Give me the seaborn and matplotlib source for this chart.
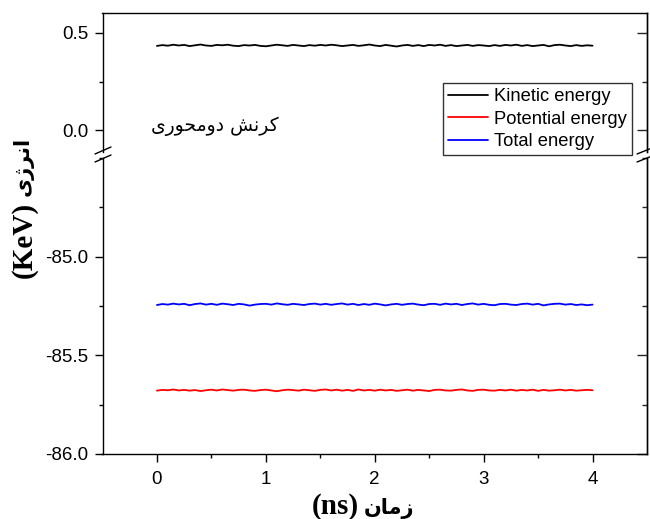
import numpy as np
import pandas as pd
import matplotlib
matplotlib.use("Agg")
import matplotlib.pyplot as plt
import seaborn as sns
from matplotlib.lines import Line2D
from matplotlib.ticker import MultipleLocator, FixedLocator

# ---------------- data ----------------
kinetic = [0.432, 0.436, 0.433, 0.438, 0.434, 0.437, 0.431, 0.435, 0.439, 0.434, 0.432, 0.437, 0.435, 0.438,
           0.433, 0.431, 0.436, 0.434, 0.437, 0.432, 0.430, 0.434, 0.438, 0.435, 0.432, 0.437, 0.434, 0.431,
           0.436, 0.433, 0.437, 0.434, 0.438, 0.435, 0.431, 0.434, 0.437, 0.432, 0.435, 0.439, 0.434, 0.431,
           0.437, 0.433, 0.429, 0.434, 0.437, 0.432, 0.436, 0.431, 0.437, 0.434, 0.438, 0.432, 0.436, 0.431,
           0.434, 0.437, 0.432, 0.436, 0.434, 0.431, 0.436, 0.432, 0.437, 0.434, 0.438, 0.432, 0.436, 0.431,
           0.434, 0.437, 0.430, 0.436, 0.438, 0.434, 0.431, 0.436, 0.432, 0.435, 0.433]
total = [-85.245, -85.240, -85.243, -85.238, -85.242, -85.239, -85.246, -85.240, -85.237, -85.243, -85.239,
         -85.244, -85.238, -85.241, -85.245, -85.239, -85.242, -85.248, -85.243, -85.240, -85.239, -85.243,
         -85.237, -85.241, -85.244, -85.239, -85.242, -85.245, -85.240, -85.238, -85.243, -85.239, -85.244,
         -85.240, -85.237, -85.243, -85.239, -85.245, -85.240, -85.244, -85.238, -85.242, -85.247, -85.242,
         -85.239, -85.244, -85.240, -85.238, -85.243, -85.246, -85.240, -85.239, -85.244, -85.238, -85.242,
         -85.239, -85.245, -85.240, -85.237, -85.243, -85.239, -85.244, -85.246, -85.240, -85.239, -85.243,
         -85.245, -85.240, -85.238, -85.243, -85.239, -85.247, -85.242, -85.239, -85.238, -85.243, -85.240,
         -85.245, -85.242, -85.246, -85.243]
potential = [-85.679, -85.675, -85.677, -85.673, -85.678, -85.675, -85.679, -85.676, -85.681, -85.677, -85.674,
             -85.678, -85.673, -85.676, -85.679, -85.675, -85.674, -85.678, -85.680, -85.676, -85.674, -85.678,
             -85.682, -85.677, -85.674, -85.676, -85.679, -85.674, -85.677, -85.680, -85.675, -85.673, -85.678,
             -85.674, -85.679, -85.675, -85.680, -85.673, -85.678, -85.675, -85.679, -85.674, -85.678, -85.675,
             -85.680, -85.677, -85.674, -85.679, -85.675, -85.678, -85.681, -85.675, -85.674, -85.678, -85.679,
             -85.675, -85.673, -85.678, -85.680, -85.675, -85.674, -85.678, -85.679, -85.675, -85.678, -85.674,
             -85.679, -85.675, -85.678, -85.674, -85.680, -85.675, -85.679, -85.677, -85.674, -85.678, -85.675,
             -85.679, -85.677, -85.675, -85.677]
t_start, t_end = 0.0, 4.0
series_names = ["Kinetic energy", "Potential energy", "Total energy"]
series_colors = ["black", "red", "blue"]
x_ticks = [0, 1, 2, 3, 4]
x_minor_ticks = [0.5, 1.5, 2.5, 3.5]
top_yticks = [0.0, 0.5]
bottom_yticks = [-86.0, -85.5, -85.0]

# Persian text (presentation forms, visual order for LTR rendering)
annot_text = "\uFBFC\uFEAD\uFEEE\uFEA4\uFEE3\uFEED\uFEA9 \uFEB6\uFEE7\uFEAE\uFB90"   # کرنش دومحوری
xlabel_fa = "\uFEE5\uFE8E\uFEE3\uFEAF"                                              # زمان
xlabel_unit = "(ns)"
ylabel_fa = "\uFBFC\uFB8A\uFEAE\uFEE7\uFE8D"                                        # انرژی
ylabel_unit = "(KeV)"

def frame(vals, name):
    return pd.DataFrame({"t": np.linspace(t_start, t_end, len(vals)), "E": vals, "name": name})

df_top = frame(kinetic, series_names[0])
df_bot = pd.concat([frame(potential, series_names[1]), frame(total, series_names[2])])

# ---------------- style ----------------
sns.set_style("ticks")
plt.rcParams["font.family"] = ["Liberation Sans", "DejaVu Sans"]
plt.rcParams["axes.linewidth"] = 1.0
plt.rcParams["text.color"] = "black"

W, H = 650, 519
fig = plt.figure(figsize=(W / 100, H / 100), dpi=100)

def fx(px):
    return px / W

def fy(py):
    return 1 - py / H

L, R = 102.5, 647
ax_top = fig.add_axes([fx(L), fy(152), fx(R) - fx(L), fy(13) - fy(152)])
ax_bot = fig.add_axes([fx(L), fy(454), fx(R) - fx(L), fy(158) - fy(454)])

sns.lineplot(data=df_top, x="t", y="E", ax=ax_top, color=series_colors[0], lw=1.3, legend=False)
sns.lineplot(data=df_bot, x="t", y="E", hue="name", palette=series_colors[1:], ax=ax_bot, lw=1.3, legend=False)

for ax in (ax_top, ax_bot):
    ax.set_xlim(-0.5, 4.5)
    ax.set_xlabel("")
    ax.set_ylabel("")
    for s in ax.spines.values():
        s.set_color("black")
        s.set_linewidth(1.0)

ax_top.set_ylim(-0.11, 0.6)
ax_bot.set_ylim(-86.0, -84.5)

ax_top.spines["bottom"].set_visible(False)
ax_bot.spines["top"].set_visible(False)
ax_top.tick_params(axis="x", which="both", bottom=False, top=False, labelbottom=False)

ax_top.set_yticks(top_yticks)
ax_top.set_yticklabels([f"{v:.1f}" for v in top_yticks])
ax_top.yaxis.set_minor_locator(MultipleLocator(0.25))
ax_bot.set_yticks(bottom_yticks)
ax_bot.set_yticklabels([f"{v:.1f}" for v in bottom_yticks])
ax_bot.yaxis.set_minor_locator(MultipleLocator(0.25))
ax_bot.set_xticks(x_ticks)
ax_bot.set_xticklabels([str(v) for v in x_ticks])
ax_bot.xaxis.set_minor_locator(FixedLocator(x_minor_ticks))

for ax in (ax_top, ax_bot):
    ax.tick_params(axis="both", which="major", direction="out", length=6, width=1.0,
                   labelsize=13.5, colors="black", pad=4)
    ax.tick_params(axis="both", which="minor", direction="out", length=3, width=1.0, colors="black")
ax_bot.tick_params(axis="x", which="major", pad=6.5)

# right-side inward mirror ticks
for ax, ticks in ((ax_top, top_yticks), (ax_bot, bottom_yticks)):
    sec = ax.secondary_yaxis("right")
    sec.set_yticks(ticks)
    sec.yaxis.set_minor_locator(MultipleLocator(0.25))
    sec.tick_params(which="major", direction="in", length=7, width=1.0, labelright=False)
    sec.tick_params(which="minor", direction="in", length=3.5, width=1.0)
    sec.spines["right"].set_linewidth(1.0)

# break marks
def slash(x0, y0, x1, y1):
    fig.add_artist(Line2D([fx(x0), fx(x1)], [fy(y0), fy(y1)], color="black", lw=1.0,
                          transform=fig.transFigure, clip_on=False))

slash(95, 154, 111, 147)
slash(95, 162, 111, 155)
slash(637, 154, 652, 148)
slash(637, 162, 652, 156)

# annotation
ax_top.text(0.53, 0.02, annot_text, ha="center", va="center", fontsize=13.5,
            family=["DejaVu Sans"], color="black")

# legend
handles = [Line2D([], [], color=c, lw=1.3) for c in series_colors]
leg = fig.legend(handles, series_names, loc="upper right", bbox_to_anchor=(fx(632), fy(83)),
                 bbox_transform=fig.transFigure, fontsize=13.2, frameon=True, fancybox=False,
                 borderpad=0.28, labelspacing=0.3, handlelength=2.15, handletextpad=0.35,
                 borderaxespad=0)
leg.get_frame().set_edgecolor("black")
leg.get_frame().set_linewidth(1.0)
for txt in leg.get_texts():
    txt.set_color("black")

# axis labels
serif = ["Liberation Serif", "DejaVu Serif"]
fig.text(fx(335), fy(514), xlabel_unit, ha="center", va="baseline", fontsize=21,
         fontweight="bold", family=serif)
fig.text(fx(389), fy(514), xlabel_fa, ha="center", va="baseline", fontsize=15,
         fontweight="bold", family=["DejaVu Sans"])
fig.text(fx(24), fy(240), ylabel_unit, ha="center", va="center", rotation=90, fontsize=21,
         fontweight="bold", family=serif)
fig.text(fx(23), fy(166), ylabel_fa, ha="center", va="center", rotation=90, fontsize=15,
         fontweight="bold", family=["DejaVu Sans"])

fig.savefig("out.png", dpi=100)
